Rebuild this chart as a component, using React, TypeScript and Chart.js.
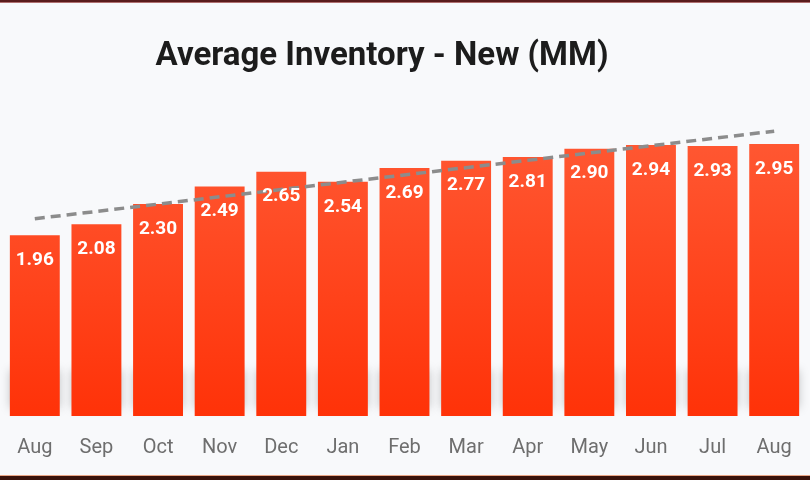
import React, { useEffect, useRef } from "react";
import { Chart, registerables } from "chart.js";

Chart.register(...registerables);

const months = ["Aug", "Sep", "Oct", "Nov", "Dec", "Jan", "Feb", "Mar", "Apr", "May", "Jun", "Jul", "Aug"];
const inventory = [1.96, 2.08, 2.3, 2.49, 2.65, 2.54, 2.69, 2.77, 2.81, 2.9, 2.94, 2.93, 2.95];
// trend line endpoints
const trend = [2.14, null, null, null, null, null, null, null, null, null, null, null, 3.09];
const titleText = "Average Inventory - New (MM)";

const BAR_INDEX = 1;

const framePlugin = {
  id: "frame",
  beforeDraw(chart: any) {
    const ctx = chart.ctx;
    ctx.save();
    ctx.fillStyle = "#f8f9fb";
    ctx.fillRect(0, 0, chart.width, chart.height);
    ctx.fillStyle = "#5a1c1c";
    ctx.fillRect(0, 0, chart.width, 2);
    ctx.fillStyle = "#b07070";
    ctx.fillRect(0, 2, chart.width, 1);
    ctx.fillStyle = "#e9a585";
    ctx.fillRect(0, chart.height - 5, chart.width, 1);
    ctx.fillStyle = "#3a120a";
    ctx.fillRect(0, chart.height - 4, chart.width, 4);
    ctx.restore();
  },
  afterDraw(chart: any) {
    const ctx = chart.ctx;
    ctx.save();
    ctx.font = "bold 33px Roboto";
    ctx.fillStyle = "#1c1c1c";
    ctx.textAlign = "center";
    ctx.textBaseline = "alphabetic";
    ctx.fillText(titleText, 382, 65);
    ctx.restore();
  },
};

const shadowPlugin = {
  id: "barShadow",
  beforeDatasetsDraw(chart: any) {
    const meta = chart.getDatasetMeta(BAR_INDEX);
    const ctx = chart.ctx;
    ctx.save();
    ctx.filter = "blur(5px)";
    ctx.fillStyle = "rgba(0,0,0,0.22)";
    meta.data.forEach((bar: any) => {
      ctx.fillRect(bar.x - bar.width / 2, bar.base - 46, bar.width, 38);
    });
    ctx.restore();
  },
};

const labelPlugin = {
  id: "barLabels",
  afterDatasetsDraw(chart: any) {
    const meta = chart.getDatasetMeta(BAR_INDEX);
    const ctx = chart.ctx;
    ctx.save();
    ctx.font = "bold 19px Roboto";
    ctx.fillStyle = "#ffffff";
    ctx.textAlign = "center";
    ctx.textBaseline = "middle";
    meta.data.forEach((bar: any, i: number) => {
      ctx.fillText(inventory[i].toFixed(2), bar.x, bar.y + 25);
    });
    ctx.restore();
  },
};

export default function App() {
  const ref = useRef<HTMLCanvasElement>(null);
  useEffect(() => {
    if (!ref.current) return;
    Chart.defaults.font.family = "Roboto";
    const chart = new Chart(ref.current, {
      type: "bar",
      data: {
        labels: months,
        datasets: [
          {
            type: "line",
            data: trend as any,
            borderColor: "#8c8c8c",
            borderWidth: 3.5,
            borderDash: [10, 6],
            pointRadius: 0,
            spanGaps: true,
            fill: false,
            order: 0,
          } as any,
          {
            type: "bar",
            data: inventory,
            order: 1,
            categoryPercentage: 1,
            barPercentage: 0.81,
            backgroundColor: (c: any) => {
              const area = c.chart.chartArea;
              if (!area) return "#ff4a20";
              const g = c.chart.ctx.createLinearGradient(0, area.top, 0, area.bottom);
              g.addColorStop(0, "#ff5a35");
              g.addColorStop(1, "#ff3208");
              return g;
            },
          } as any,
        ],
      },
      options: {
        animation: false,
        responsive: false,
        layout: { padding: { top: 121, left: 4, right: 5, bottom: 0 } },
        plugins: {
          legend: { display: false },
          tooltip: { enabled: false },
          title: { display: false },
        },
        scales: {
          x: {
            offset: true,
            grid: { display: false, drawTicks: false },
            border: { display: false },
            ticks: { color: "#6e6e6e", font: { size: 20 }, padding: 20 },
            afterFit: (scale: any) => {
              scale.paddingLeft = 0;
              scale.paddingRight = 0;
            },
          },
          y: { display: false, min: 0, max: 3.2 },
        },
      },
      plugins: [framePlugin, shadowPlugin, labelPlugin],
    });
    return () => chart.destroy();
  }, []);
  return (
    <div style={{ position: "fixed", left: 0, top: 0, width: 810, height: 480 }}>
      <canvas ref={ref} width={810} height={480} style={{ width: 810, height: 480 }} />
    </div>
  );
}
